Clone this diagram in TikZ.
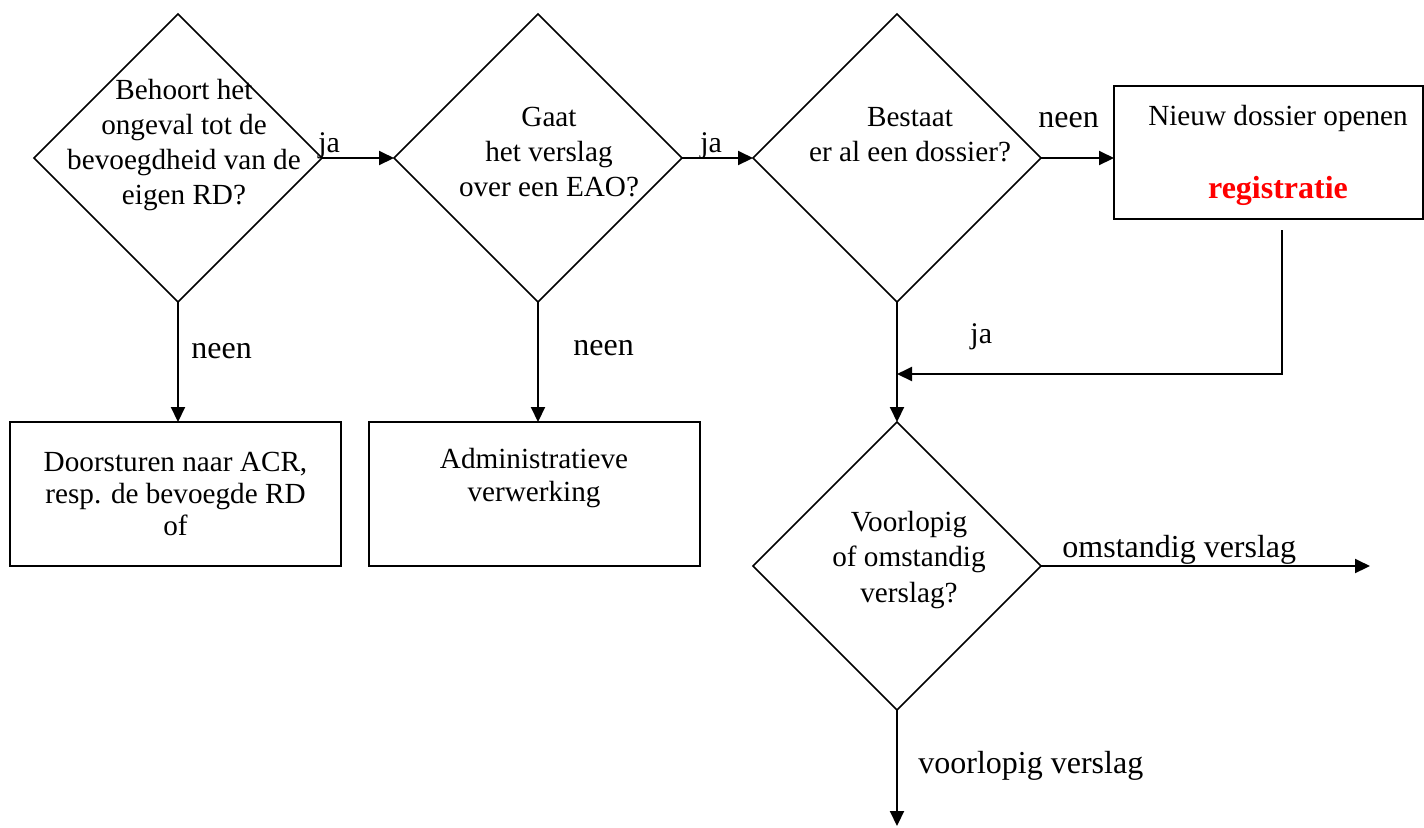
\documentclass[tikz,border=0pt]{standalone}
\usepackage{fontspec}
\setmainfont{Liberation Serif}
\usetikzlibrary{shapes.geometric,arrows.meta}

\begin{document}
\begin{tikzpicture}[x=0.5pt,y=-0.5pt,
  dia/.style={draw,diamond,aspect=1,minimum width=144pt,minimum height=144pt,
              inner sep=0pt,outer sep=0pt,line width=0.75pt},
  box/.style={draw,rectangle,inner sep=0pt,outer sep=0pt,line width=1pt},
  txt/.style={align=center,font=\fontsize{14.6}{17.6}\selectfont,inner sep=0pt},
  btxt/.style={align=center,font=\fontsize{14.6}{16.2}\selectfont,inner sep=0pt},
  lbl/.style={font=\fontsize{16}{19}\selectfont,inner sep=0pt,anchor=base west},
  slbl/.style={font=\fontsize{15}{18}\selectfont,inner sep=0pt,anchor=base west},
  arr/.style={-{Triangle[length=7.5pt,width=7pt]},line width=1pt},
]
\useasboundingbox (0,0) rectangle (1424,827);

% decision diamonds
\node[dia] (d1) at (178,158) {};
\node[dia] (d2) at (538,158) {};
\node[dia] (d3) at (897,158) {};
\node[dia] (d4) at (897,566) {};

\node[txt] (t1) at (184,145) {Behoort het\\ongeval tot de\\bevoegdheid van de\\eigen RD?};
\node[txt] (t2) at (549,152) {Gaat\\het verslag\\over een EAO?};
\node[txt] (t3) at (910,135) {Bestaat\\er al een dossier?};
\node[txt] (t4) at (909,560) {Voorlopig\\of omstandig\\verslag?};

% process boxes
\node[box,minimum width=165.5pt,minimum height=72pt] (b1) at (175.5,494) {};
\node[box,minimum width=165.5pt,minimum height=72pt] (b2) at (534.5,494) {};
\node[box,minimum width=154.5pt,minimum height=66.5pt] (b3) at (1268.5,152.5) {};

\node[btxt] (tb1) at (175.5,494) {Doorsturen naar ACR,\\resp. de bevoegde RD\\of};
\node[btxt] (tb2) at (534,478) {Administratieve\\verwerking};
\node[txt,anchor=base] (tb3) at (1278,125) {Nieuw dossier openen};
\node[anchor=base,inner sep=0pt,text=red,font=\fontsize{16}{19}\selectfont\bfseries] (tb4) at (1278,198) {registratie};

% connectors
\draw[arr] (d1.east) -- (d2.west);
\draw[arr] (d2.east) -- (d3.west);
\draw[arr] (d3.east) -- (d3.east -| b3.west);
\draw[arr] (d1.south) -- (d1.south |- b1.north);
\draw[arr] (d2.south) -- (d2.south |- b2.north);
\draw[arr] (d3.south) -- (d4.north);

\coordinate (fb) at (1282,230);
\coordinate (mg) at (897,374);
\draw[arr] (fb) |- (mg);

\coordinate (oe) at (1370,566);
\coordinate (ve) at (897,826);
\draw[arr] (d4.east) -- (oe);
\draw[arr] (d4.south) -- (ve);

% branch labels
\node[slbl] (l1) at (318,152) {ja};
\node[slbl] (l2) at (700,152) {ja};
\node[lbl] (l3) at (1038,127) {neen};
\node[lbl] (l4) at (191,358) {neen};
\node[lbl] (l5) at (573,355) {neen};
\node[slbl] (l6) at (970,343) {ja};
\node[lbl] (l7) at (1062,557) {omstandig verslag};
\node[lbl] (l8) at (918,773) {voorlopig verslag};
\end{tikzpicture}
\end{document}
